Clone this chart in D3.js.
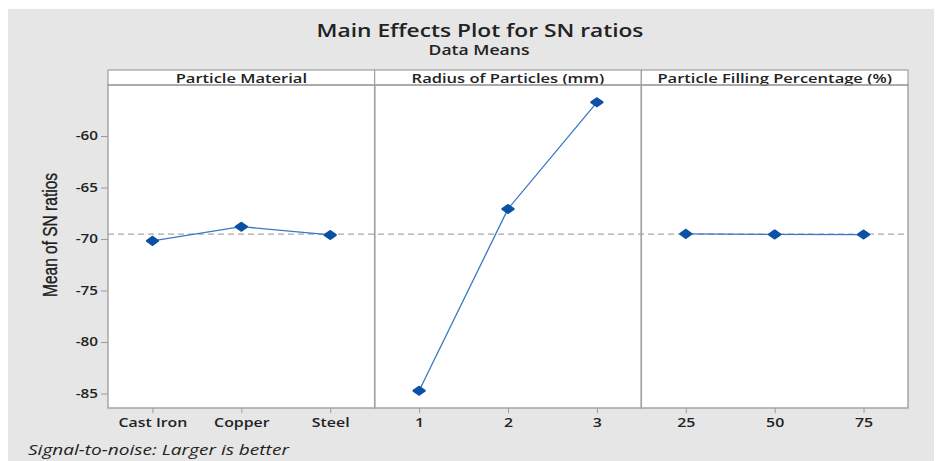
<!DOCTYPE html>
<html>
<head>
<meta charset="utf-8">
<script src="https://cdn.jsdelivr.net/npm/d3@7"></script>
<style>
  body { margin: 0; background: #ffffff; }
  svg { display: block; }
  text { font-family: "Open Sans", "Noto Sans", sans-serif; fill: #222; }
</style>
</head>
<body>
<svg id="chart" width="938" height="461"></svg>
<script>
// ---- data ----
const factors = ["Particle Material", "Radius of Particles (mm)", "Particle Filling Percentage (%)"];
const materialLevels = ["Cast Iron", "Copper", "Steel"];
const materialSN = [-70.18, -68.80, -69.60];
const radiusLevels = ["1", "2", "3"];
const radiusSN = [-84.73, -67.08, -56.73];
const fillingLevels = ["25", "50", "75"];
const fillingSN = [-69.50, -69.55, -69.57];
const yTicks = [-85, -80, -75, -70, -65, -60];
const overallMean = -69.53;

const panels = [
  { name: factors[0], levels: materialLevels, values: materialSN },
  { name: factors[1], levels: radiusLevels, values: radiusSN },
  { name: factors[2], levels: fillingLevels, values: fillingSN }
];

const W = 938, H = 461;
const STRETCH = 1.27; // reference text is horizontally widened
const svg = d3.select("#chart");

function widen(sel, f) {
  sel.each(function () {
    const len = this.getComputedTextLength();
    d3.select(this).attr("textLength", len * f).attr("lengthAdjust", "spacingAndGlyphs");
  });
}

// background
svg.append("rect").attr("x", 8).attr("y", 9).attr("width", 926).attr("height", H - 9).attr("fill", "#e6e6e6");

const left = 108, right = 908, stripTop = 70, plotTop = 85, plotBottom = 408;

const facet = d3.scaleBand().domain(factors).range([left, right]).padding(0);
const y = d3.scaleLinear().domain([-86.4, -55.05]).range([plotBottom, plotTop]);

// titles
svg.append("text").attr("x", 480).attr("y", 37).attr("text-anchor", "middle")
  .style("font-size", "17.5px").style("font-weight", 600).attr("fill", "#111")
  .text("Main Effects Plot for SN ratios").call(widen, 1.3);
svg.append("text").attr("x", 479).attr("y", 55).attr("text-anchor", "middle")
  .style("font-size", "13.5px").style("font-weight", 600).attr("fill", "#111")
  .text("Data Means").call(widen, 1.3);

// plot area white
svg.append("rect").attr("x", left).attr("y", stripTop).attr("width", right - left).attr("height", plotBottom - stripTop)
  .attr("fill", "#ffffff");

// y axis
const yAxis = d3.axisLeft(y).tickValues(yTicks).tickSize(7).tickPadding(3).tickFormat(d3.format("d"));
const ya = svg.append("g").attr("transform", `translate(${left},0)`).call(yAxis);
ya.select(".domain").remove();
ya.selectAll(".tick line").attr("stroke", "#9a9a9a");
ya.selectAll(".tick text").style("font-size", "12px").style("font-weight", 600).attr("fill", "#333")
  .style("font-family", "'Open Sans', sans-serif").text(d => "-" + Math.abs(d)).call(widen, STRETCH);

svg.append("text")
  .attr("transform", `translate(57,235) rotate(-90) scale(1,1.35)`)
  .attr("text-anchor", "middle")
  .style("font-family", "'Liberation Sans Narrow', 'Arial Narrow', sans-serif")
  .style("font-size", "15.5px")
  .attr("fill", "#111")
  .attr("stroke", "#111").attr("stroke-width", 0.25)
  .text("Mean of SN ratios");

// dashed mean line across
svg.append("line").attr("x1", left).attr("x2", right).attr("y1", y(overallMean)).attr("y2", y(overallMean))
  .attr("stroke", "#a8a8a8").attr("stroke-width", 1.2).attr("stroke-dasharray", "6,4");

panels.forEach(p => {
  const x0 = facet(p.name), bw = facet.bandwidth();
  const x = d3.scalePoint().domain(p.levels).range([x0, x0 + bw]).padding(0.5);
  const g = svg.append("g");

  // strip
  g.append("rect").attr("x", x0).attr("y", stripTop).attr("width", bw).attr("height", plotTop - stripTop)
    .attr("fill", "#ffffff").attr("stroke", "#a0a0a0").attr("stroke-width", 1.2);
  g.append("text").attr("x", x0 + bw / 2).attr("y", 83).attr("text-anchor", "middle")
    .style("font-size", "12.8px").style("font-weight", 600).attr("fill", "#222").text(p.name)
    .call(widen, 1.29);

  // panel border
  g.append("rect").attr("x", x0).attr("y", plotTop).attr("width", bw).attr("height", plotBottom - plotTop)
    .attr("fill", "none").attr("stroke", "#a0a0a0").attr("stroke-width", 1.4);

  // x axis
  const xa = g.append("g").attr("transform", `translate(0,${plotBottom})`)
    .call(d3.axisBottom(x).tickSize(5).tickPadding(5));
  xa.select(".domain").remove();
  xa.selectAll(".tick line").attr("stroke", "#9a9a9a");
  xa.selectAll(".tick text").style("font-size", "12.5px").style("font-weight", 600).attr("fill", "#333")
    .call(widen, STRETCH);

  // line
  const pts = p.levels.map((l, i) => [x(l), y(p.values[i])]);
  g.append("path").attr("d", d3.line()(pts)).attr("fill", "none")
    .attr("stroke", "#3a78c6").attr("stroke-width", 1.3);

  // markers
  const sym = d3.symbol().type(d3.symbolDiamond).size(46);
  g.selectAll("path.mk").data(pts).join("path").attr("class", "mk")
    .attr("d", sym)
    .attr("transform", d => `translate(${d[0]},${d[1]}) scale(1.5,0.6)`)
    .attr("fill", "#0b52a6").attr("stroke", "#0b52a6").attr("stroke-width", 2.4)
    .attr("stroke-linejoin", "round").attr("vector-effect", "non-scaling-stroke");
});

// footer
svg.append("text").attr("x", 28).attr("y", 455)
  .style("font-size", "14px").style("font-style", "italic").attr("fill", "#333")
  .text("Signal-to-noise: Larger is better").call(widen, 1.36);
</script>
</body>
</html>
